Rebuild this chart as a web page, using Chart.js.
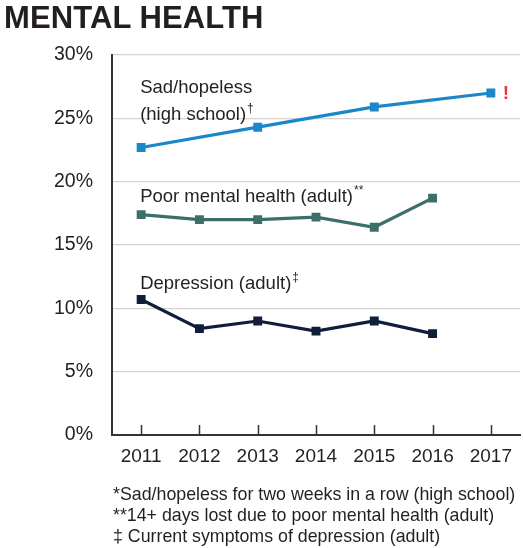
<!DOCTYPE html>
<html>
<head>
<meta charset="utf-8">
<script src="https://cdn.jsdelivr.net/npm/chart.js@4/dist/chart.umd.min.js"></script>
<style>
  html, body { margin: 0; padding: 0; background: #fff; }
  #wrap { position: relative; width: 523px; height: 548px; overflow: hidden; }
  #title { position: absolute; left: 4px; top: 0px; font-family: "Liberation Sans", Arial, sans-serif; font-weight: bold; font-size: 31px; color: #231f20; letter-spacing: 0.1px; }
  #notes { position: absolute; left: 113px; top: 484px; font-family: "Liberation Sans", Arial, sans-serif; font-size: 17.8px; line-height: 21px; color: #231f20; white-space: nowrap; }
  canvas { position: absolute; left: 0; top: 0; }
</style>
</head>
<body>
<div id="wrap">
  <canvas id="c" width="523" height="548"></canvas>
  <div id="title">MENTAL HEALTH</div>
  <div id="notes">
    <div>*Sad/hopeless for two weeks in a row (high school)</div>
    <div>**14+ days lost due to poor mental health (adult)</div>
    <div>‡ Current symptoms of depression (adult)</div>
  </div>
</div>
<script>
const years = ["2011", "2012", "2013", "2014", "2015", "2016", "2017"];
const sadHopeless = [22.7, null, 24.3, null, 25.9, null, 27.0];
const poorMentalHealth = [17.4, 17.0, 17.0, 17.2, 16.4, 18.7, null];
const depression = [10.7, 8.4, 9.0, 8.2, 9.0, 8.0, null];
const yTicks = [0, 5, 10, 15, 20, 25, 30];

const seriesNames = ["Sad/hopeless (high school)", "Poor mental health (adult)", "Depression (adult)"];
const colors = ["#1b87c8", "#3c6f6a", "#0f1f3b"];

const labelFont = '"Liberation Sans", Arial, sans-serif';

const annotations = {
  id: 'annotations',
  afterDatasetsDraw(chart) {
    const ctx = chart.ctx;
    const xs = chart.scales.x, ys = chart.scales.y;
    const x0 = xs.getPixelForValue(0) - 1;
    ctx.save();
    ctx.fillStyle = '#231f20';
    ctx.textBaseline = 'middle';
    ctx.textAlign = 'left';
    function lab(text, sup, yv) {
      ctx.font = '18.5px ' + labelFont;
      const y = ys.getPixelForValue(yv);
      ctx.fillText(text, x0, y);
      if (sup) {
        const w = ctx.measureText(text).width;
        ctx.font = '12px ' + labelFont;
        ctx.fillText(sup, x0 + w + 1, y - 6);
      }
    }
    lab('Sad/hopeless', '', 27.4);
    lab('(high school)', '†', 25.25);
    lab('Poor mental health (adult)', '**', 18.8);
    lab('Depression (adult)', '‡', 11.95);
    // red exclamation next to the last sad/hopeless point
    const lastIdx = sadHopeless.length - 1;
    ctx.fillStyle = '#e53a3f';
    ctx.font = 'bold 19px ' + labelFont;
    ctx.textAlign = 'left';
    ctx.fillText('!', xs.getPixelForValue(lastIdx) + 12, ys.getPixelForValue(sadHopeless[lastIdx]) + 1);
    // x-axis tick marks pointing up
    ctx.strokeStyle = '#333';
    ctx.lineWidth = 1.5;
    const yb = chart.chartArea.bottom;
    for (let i = 0; i < years.length; i++) {
      const x = Math.round(xs.getPixelForValue(i)) + 0.5;
      ctx.beginPath();
      ctx.moveTo(x, yb);
      ctx.lineTo(x, yb - 10);
      ctx.stroke();
    }
    ctx.restore();
  }
};

function ds(i, data) {
  return {
    label: seriesNames[i],
    data: data,
    borderColor: colors[i],
    backgroundColor: colors[i],
    borderWidth: 3.2,
    pointStyle: 'rect',
    pointRadius: 6.3,
    pointHoverRadius: 6.3,
    pointBorderWidth: 0,
    spanGaps: true,
    tension: 0
  };
}

new Chart(document.getElementById('c'), {
  type: 'line',
  data: {
    labels: years,
    datasets: [ds(0, sadHopeless), ds(1, poorMentalHealth), ds(2, depression)]
  },
  options: {
    responsive: false,
    animation: false,
    events: [],
    layout: { autoPadding: false, padding: { top: 55, right: 3, bottom: 0, left: 0 } },
    plugins: { legend: { display: false }, tooltip: { enabled: false }, title: { display: false } },
    scales: {
      x: {
        type: 'category',
        offset: true,
        grid: { display: false, drawTicks: false },
        border: { display: true, color: '#333', width: 2 },
        ticks: { color: '#231f20', font: { family: labelFont, size: 19 }, padding: 10, maxRotation: 0, autoSkip: false },
        afterFit(scale) { scale.height = 113; }
      },
      y: {
        min: 0, max: 30,
        afterBuildTicks(scale) { scale.ticks = yTicks.map(v => ({ value: v })); },
        grid: { color: (c) => c.tick && c.tick.value === 0 ? 'rgba(0,0,0,0)' : '#d4d4d4', lineWidth: 1.2, drawTicks: false },
        border: { display: true, color: '#333', width: 2 },
        ticks: { color: '#231f20', font: { family: labelFont, size: 19.5 }, padding: 19, callback: (v) => v + '%' },
        afterFit(scale) { scale.width = 112; }
      }
    }
  },
  plugins: [annotations]
});
</script>
</body>
</html>
